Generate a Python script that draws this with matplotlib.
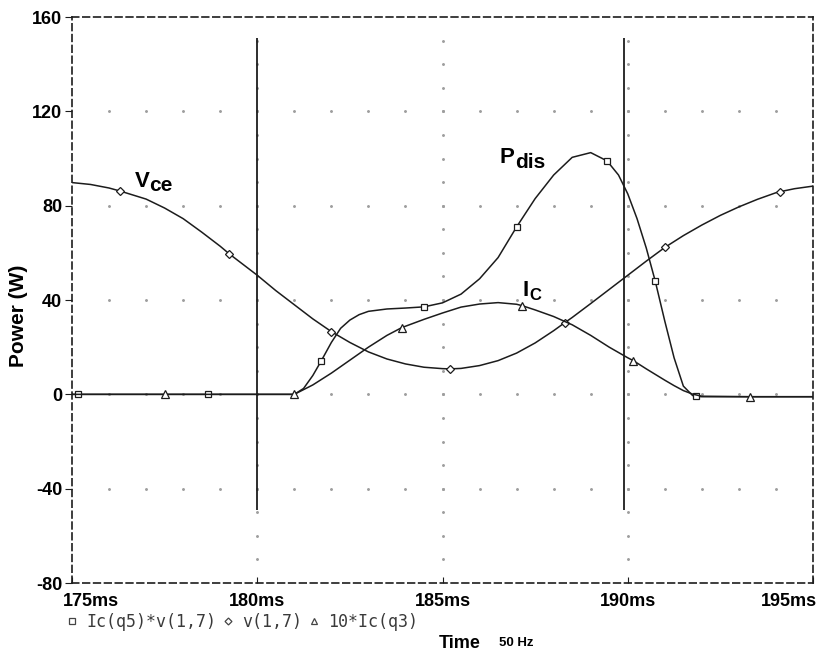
import numpy as np
import matplotlib.pyplot as plt
from matplotlib.lines import Line2D
from matplotlib import transforms

plt.rcParams['font.family'] = ['Liberation Sans', 'DejaVu Sans']

# time axis in ms, traces in W (Ic scaled x10)
t_pdis = [175, 175.15, 178.67, 181.0, 181.25, 181.5, 181.72, 182.0, 182.25, 182.5,
          182.75, 183.0, 183.5, 184.0, 184.5, 185.0, 185.5, 186.0, 186.5, 187.0,
          187.5, 188.0, 188.5, 189.0, 189.44, 189.75, 190.0, 190.25, 190.5, 190.74,
          191.0, 191.25, 191.5, 191.75, 191.84, 192.0, 195]
pdis = [0, 0, 0, 0, 2.5, 8, 14, 22, 28, 31.5,
        33.8, 35.2, 36.2, 36.6, 37.1, 38.8, 42.5, 49, 58, 71,
        83, 93, 100.5, 102.5, 99, 93, 85, 74.5, 62, 48.1,
        31, 15.5, 3.5, -0.5, -0.8, -1, -1]
pdis_marks = [175.15, 178.67, 181.72, 184.5, 187.0, 189.44, 190.74, 191.84]

t_vce = [175, 175.5, 176, 176.3, 177, 177.5, 178, 178.5, 179, 179.25,
         179.5, 180, 180.5, 181, 181.5, 182, 182.5, 183, 183.5, 184,
         184.5, 185, 185.2, 185.5, 186, 186.5, 187, 187.5, 188, 188.3,
         188.5, 189, 189.5, 190, 190.5, 191, 191.5, 192, 192.5, 193,
         193.5, 194, 194.1, 194.5, 195]
vce = [89.8, 89.0, 87.5, 86.2, 82.8, 79.0, 74.5, 68.8, 62.8, 59.5,
       56.5, 50.5, 44.0, 38.0, 32.0, 26.6, 22.0, 18.0, 15.0, 12.9,
       11.5, 10.9, 10.8, 11.0, 12.2, 14.3, 17.5, 21.8, 27.0, 30.4,
       32.6, 38.5, 44.5, 50.5, 56.5, 62.3, 67.3, 71.8, 75.9, 79.5,
       82.7, 85.5, 85.9, 87.2, 88.3]
vce_marks = [176.3, 179.25, 182, 185.2, 188.3, 191, 194.1]

t_ic = [175, 177.5, 181.0, 181.5, 182.0, 182.5, 183.0, 183.5, 183.9, 184.5,
        185.0, 185.5, 186.0, 186.5, 187.0, 187.15, 187.5, 188.0, 188.5, 189.0,
        189.5, 190.0, 190.15, 190.5, 191.0, 191.25, 191.5, 191.75, 192.0, 193.3, 195]
ic10 = [0, 0, 0, 4, 9, 14.5, 20, 25, 28.3, 31.8,
        34.5, 37, 38.3, 38.9, 38.2, 37.6, 35.8, 33, 29.5, 25,
        20, 15.5, 14.3, 10.8, 6, 3.7, 1.6, 0.1, -0.8, -1, -1]
ic_marks = [177.5, 181.0, 183.9, 187.15, 190.15, 193.3]

cursors = [180.0, 189.9]
cursor_span = (-49, 151)

trace_names = ['Ic(q5)*v(1,7)', 'v(1,7)', '10*Ic(q3)']
xticks = [175, 180, 185, 190, 195]
xtick_labels = ['175ms', '180ms', '185ms', '190ms', '195ms']
yticks = [-80, -40, 0, 40, 80, 120, 160]

ink = '#1c1c1c'

fig = plt.figure(figsize=(8.2, 6.57), dpi=100)
ax = fig.add_axes([0.0878, 0.1126, 0.9037, 0.8615])
ax.set_xlim(175, 195)
ax.set_ylim(-80, 160)

# dotted grid
for y in yticks[1:-1]:
    gx = np.arange(176, 195)
    ax.plot(gx, np.full(len(gx), y), ls='none', marker='o', ms=1.1, color='0.62', zorder=1)
for x in xticks[1:-1]:
    gy = np.arange(-70, 151, 10)
    ax.plot(np.full(len(gy), x), gy, ls='none', marker='o', ms=1.1, color='0.62', zorder=1)

ax.vlines(cursors, *cursor_span, color=ink, lw=1.3, zorder=2)

def marks(t, m):
    return [t.index(v) for v in m]

ax.plot(t_pdis, pdis, color=ink, lw=1.1, marker='s', ms=5, mfc='white', mec=ink,
        mew=0.9, markevery=marks(t_pdis, pdis_marks), zorder=3)
ax.plot(t_vce, vce, color=ink, lw=1.1, marker='D', ms=3.8, mfc='white', mec=ink,
        mew=0.9, markevery=marks(t_vce, vce_marks), zorder=3)
ax.plot(t_ic, ic10, color=ink, lw=1.1, marker='^', ms=5.5, mfc='white', mec=ink,
        mew=0.9, markevery=marks(t_ic, ic_marks), zorder=3)

# trace labels with subscripts
def sublabel(x, y, main, sub, dx, dy=-3, subsize=15):
    ax.text(x, y, main, fontsize=16, fontweight='bold', ha='left', va='baseline')
    tr = transforms.offset_copy(ax.transData, fig=fig, x=dx, y=dy, units='points')
    ax.text(x, y, sub, fontsize=subsize, fontweight='bold', ha='left', va='baseline',
            transform=tr)

sublabel(176.7, 87.8, 'V', 'ce', 10.5)
sublabel(186.55, 97.9, 'P', 'dis', 10.8)
sublabel(187.17, 41.8, 'I', 'C', 4.8, subsize=12)

for s in ax.spines.values():
    s.set_linestyle((0, (4, 2.5)))
    s.set_linewidth(1.2)
    s.set_color(ink)

ax.set_xticks(xticks)
ax.set_xticklabels(xtick_labels, fontsize=13, fontweight='bold')
ax.set_yticks(yticks)
ax.set_yticklabels([str(v) for v in yticks], fontsize=13, fontweight='bold')
ax.tick_params(axis='x', direction='in', length=4, pad=7, color=ink)
ax.tick_params(axis='y', direction='out', length=5, pad=2, color=ink)

xl = ax.get_xticklabels()
xl[0].set_ha('left')
xl[0].set_transform(xl[0].get_transform() + transforms.ScaledTranslation(-0.09, 0, fig.dpi_scale_trans))
xl[-1].set_ha('right')
xl[-1].set_transform(xl[-1].get_transform() + transforms.ScaledTranslation(0.04, 0, fig.dpi_scale_trans))

fig.text(0.022, 0.52, 'Power (W)', rotation=90, fontsize=15, fontweight='bold',
         ha='center', va='center')

handles = [Line2D([], [], ls='none', marker=m, ms=s, mfc='white', mec='#444', mew=0.9)
           for m, s in [('s', 4.5), ('D', 3.5), ('^', 5)]]
leg = fig.legend(handles, trace_names, loc='center left', bbox_to_anchor=(0.08, 1 - 622 / 657),
                 ncol=3, frameon=False, handlelength=0.8, handletextpad=0.45, columnspacing=0.3,
                 borderaxespad=0, borderpad=0,
                 prop={'family': 'DejaVu Sans Mono', 'size': 12})
for txt in leg.get_texts():
    txt.set_color('#3a3a3a')

fig.text(0.561, 1 - 643 / 657, 'Time', fontsize=13, fontweight='bold', ha='center', va='center')
fig.text(0.630, 1 - 643 / 657, '50 Hz', fontsize=9.5, fontweight='bold', ha='center', va='center')

fig.savefig('out.png', dpi=100)
